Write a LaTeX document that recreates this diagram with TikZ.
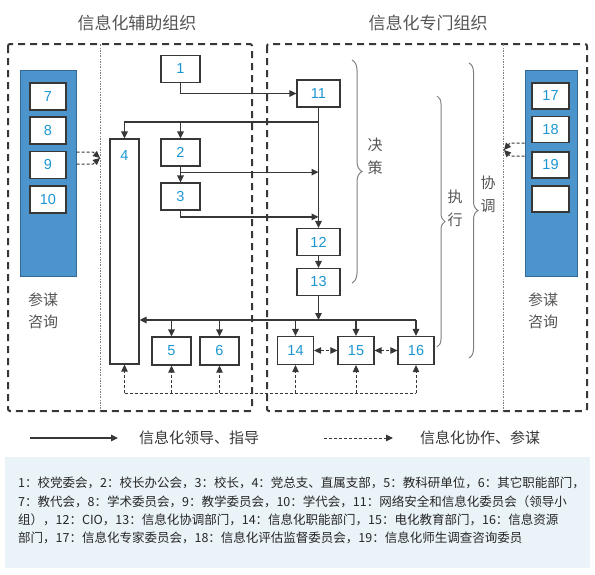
\documentclass[tikz,border=0pt]{standalone}
\usepackage{fontspec}
\setmainfont{Liberation Sans}
\newfontfamily\cjk{Noto Sans CJK SC}
\usetikzlibrary{arrows.meta,calc,decorations.pathreplacing}

\definecolor{inkgray}{RGB}{55,55,55}
\definecolor{labelgray}{RGB}{85,85,85}
\definecolor{numblue}{RGB}{28,150,210}
\definecolor{panelblue}{RGB}{76,148,204}
\definecolor{paneledge}{RGB}{50,105,150}
\definecolor{notebg}{RGB}{234,243,248}

\tikzset{
  box/.style={draw=inkgray, line width=1.2pt, fill=white, text=numblue,
    font=\fontsize{14.5}{14.5}\selectfont, inner sep=0pt,
    minimum width=39pt, minimum height=27pt},
  numtxt/.style={text=numblue, font=\fontsize{14.5}{14.5}\selectfont, inner sep=0pt},
  panel/.style={draw=paneledge, line width=1pt, fill=panelblue, inner sep=0pt},
  title/.style={text=labelgray, font=\cjk\fontsize{17}{17}\selectfont},
  side/.style={text=labelgray, font=\cjk\fontsize{15}{22}\selectfont, align=center},
  legtxt/.style={text=inkgray, font=\cjk\fontsize{15}{15}\selectfont},
  note/.style={text=black!85, font=\cjk\fontsize{12.5}{18.5}\selectfont,
    anchor=west, inner sep=0pt},
  frame/.style={draw=inkgray, line width=2pt, dash pattern=on 7pt off 5pt},
  split/.style={draw=gray, line width=0.7pt,
    dash pattern=on 2pt off 1.5pt on 0.5pt off 1.5pt},
  lead/.style={draw=inkgray, line width=1.2pt, -{Triangle[length=7pt,width=6.5pt]}},
  assistline/.style={draw=inkgray, line width=1pt, dash pattern=on 3pt off 2pt},
  assist/.style={assistline, -{Triangle[length=7pt,width=6.5pt]}},
  mutual/.style={assistline, {Triangle[length=7pt,width=6.5pt]}-{Triangle[length=7pt,width=6.5pt]}},
  curly/.style={draw=gray, line width=1pt, decorate, decoration={brace, amplitude=#1}},
}

\begin{document}
\begin{tikzpicture}[x=1pt,y=-1pt]
\useasboundingbox (0,0) rectangle (595,574);

%-------------------------------------------------
% Titles and frames
%-------------------------------------------------

\node[title] (taux) at (137,23) {信息化辅助组织};
\node[title] (tspec) at (428,23) {信息化专门组织};

\draw[frame, rounded corners=2pt] (8,44) rectangle (252,411);
\draw[frame, rounded corners=2pt] (267,44) rectangle (587,411);

\draw[split] (100,44) -- (100,411);
\draw[split] (503,44) -- (503,411);

%-------------------------------------------------
% Advisory panels
%-------------------------------------------------

\node[panel, minimum width=56pt, minimum height=206pt] (lp) at (48,173) {};
\node[box, minimum width=36pt] (b7) at (48,96.5) {7};
\node[box, minimum width=36pt] (b8) at (48,130.5) {8};
\node[box, minimum width=36pt] (b9) at (48,165) {9};
\node[box, minimum width=36pt] (b10) at (48,199.5) {10};
\node[side] (lcon) at (43,311) {参谋\\咨询};

\node[panel, minimum width=52pt, minimum height=206pt] (rp) at (551,173) {};
\node[box, minimum width=37pt, minimum height=26pt] (b17) at (550.5,96) {17};
\node[box, minimum width=37pt, minimum height=26pt] (b18) at (550.5,129.5) {18};
\node[box, minimum width=37pt, minimum height=26pt] (b19) at (550.5,165) {19};
\node[box, minimum width=37pt, minimum height=26pt] (b20) at (550.5,199) {};
\node[side] (rcon) at (543,311) {参谋\\咨询};

\coordinate (lin) at (100,158);
\draw[assist] (lp.east |- 0,152) -- (93,152) -- (lin);
\draw[assist] (lp.east |- 0,164) -- (93,164) -- (lin);

\coordinate (rin) at (504,150);
\draw[assist] (rp.west |- 0,143) -- (510,143) -- (rin);
\draw[assist] (rp.west |- 0,156) -- (510,156) -- (rin);

%-------------------------------------------------
% Leading bodies
%-------------------------------------------------

\node[box] (b1) at (180.5,69) {1};
\node[box] (b2) at (180.5,152.5) {2};
\node[box] (b3) at (180.5,196.5) {3};
\node[box, minimum width=29pt, minimum height=225pt,
  label={[numtxt, anchor=north, yshift=-12pt]north:4}] (b4) at (124.5,251.5) {};
\node[box, minimum height=28pt] (b5) at (171.5,351) {5};
\node[box, minimum height=28pt] (b6) at (219.5,351) {6};

\node[box, minimum width=43pt] (b11) at (318.5,93.5) {11};
\node[box, minimum width=43pt] (b12) at (318.5,242) {12};
\node[box, minimum width=43pt] (b13) at (318.5,282) {13};
\node[box, minimum width=36pt, minimum height=28pt] (b14) at (295.5,350.5) {14};
\node[box, minimum width=36pt, minimum height=28pt] (b15) at (356,350.5) {15};
\node[box, minimum width=36pt, minimum height=28pt] (b16) at (416,350.5) {16};

% leading lines
\draw[lead] (b1.south) |- (b11.west);
\draw[lead] (b11) -- (b12);
\coordinate (j1) at (b11.south |- 0,122);
\draw[lead] (j1) -| (b4.north);
\draw[lead] (b2.north |- j1) -- (b2.north);
\draw[lead] (b2) -- (b3);
\coordinate (m23) at ($(b2.south)!.35!(b3.north)$);
\draw[lead] (m23) -- (m23 -| b11.south);
\draw[lead] (b3.south) |- ($(b12.north)+(0,-11)$);
\draw[lead] (b12) -- (b13);

\coordinate (bus) at (b13.south |- 0,320);
\draw[lead] (b13.south) -- (bus);
\draw[lead] (b16.north |- bus) -- (bus -| b4.east);
\foreach \n in {5,6,14,15,16}
  \draw[lead] (b\n.north |- bus) -- (b\n.north);

% cooperation lines
\draw[mutual] (b14) -- (b15);
\draw[mutual] (b15) -- (b16);

\coordinate (fb) at (b13.south |- 0,393);
\draw[assistline] (b4.south |- fb) -- (b16.south |- fb);
\foreach \n in {4,5,6,14,15,16}
  \draw[assist] (b\n.south |- fb) -- (b\n.south);

%-------------------------------------------------
% Braces
%-------------------------------------------------

\draw[curly=10pt] (352,60) -- (352,283);
\node[side, font=\cjk\fontsize{15}{23}\selectfont] (tdec) at (375,156) {决\\策};

\draw[curly=8pt] (437,96) -- (437,347);
\node[side, font=\cjk\fontsize{15}{23}\selectfont] (texe) at (455,208) {执\\行};

\draw[curly=9pt] (469,63) -- (469,358);
\node[side, font=\cjk\fontsize{15}{23}\selectfont] (tcoo) at (488,194) {协\\调};

%-------------------------------------------------
% Legend
%-------------------------------------------------

\coordinate (l1a) at (30,438);
\coordinate (l1b) at (118,438);
\draw[lead] (l1a) -- (l1b);
\node[legtxt] (lega) at (199,438) {信息化领导、指导};

\coordinate (l2a) at (324,438);
\coordinate (l2b) at (393,438);
\draw[assist] (l2a) -- (l2b);
\node[legtxt] (legb) at (480,438) {信息化协作、参谋};

%-------------------------------------------------
% Notes
%-------------------------------------------------

\fill[notebg] (5,457) rectangle (590,568);
\node[note] (n1) at (18,483) {1：校党委会，2：校长办公会，3：校长，4：党总支、直属支部，5：教科研单位，6：其它职能部门，};
\node[note] (n2) at (18,502) {7：教代会，8：学术委员会，9：教学委员会，10：学代会，11：网络安全和信息化委员会（领导小};
\node[note] (n3) at (18,520) {组），12：CIO，13：信息化协调部门，14：信息化职能部门，15：电化教育部门，16：信息资源};
\node[note] (n4) at (18,538) {部门，17：信息化专家委员会，18：信息化评估监督委员会，19：信息化师生调查咨询委员};

\end{tikzpicture}
\end{document}
